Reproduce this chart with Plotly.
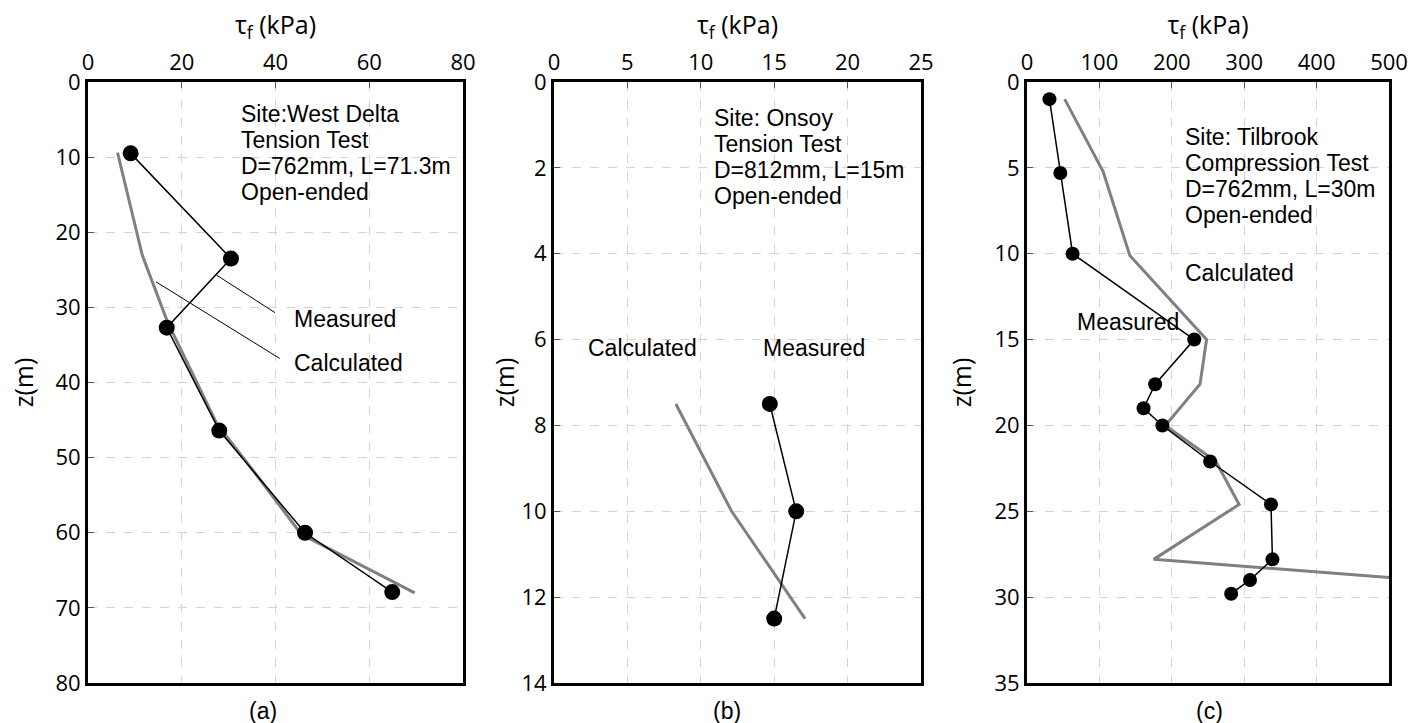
import plotly.graph_objects as go

W, H = 1411, 723

# ---------------- data ----------------
# Panel (a) West Delta
meas_a_tau = [9.1, 30.5, 16.8, 28.0, 46.3, 64.9]
meas_a_z = [9.5, 23.5, 32.7, 46.4, 60.0, 67.9]
calc_a_tau = [6.3, 11.6, 17.0, 22.0, 27.5, 35.2, 45.5, 69.7]
calc_a_z = [9.4, 23.1, 32.0, 38.5, 45.5, 51.7, 60.2, 68.0]

# Panel (b) Onsoy
meas_b_tau = [14.7, 16.5, 15.0]
meas_b_z = [7.5, 10.0, 12.5]
calc_b_tau = [8.3, 12.1, 17.1]
calc_b_z = [7.5, 10.0, 12.5]

# Panel (c) Tilbrook
meas_c_tau = [31, 46, 63, 231, 177, 161, 187, 253, 337, 339, 308, 282]
meas_c_z = [1.0, 5.3, 10.0, 15.0, 17.6, 19.0, 20.0, 22.1, 24.6, 27.8, 29.0, 29.8]
calc_c_tau = [52, 105, 142, 248, 239, 191, 261, 293, 175, 500]
calc_c_z = [1.0, 5.2, 10.1, 15.0, 17.6, 20.0, 22.1, 24.6, 27.8, 28.85]

x_ranges = [[0, 80], [0, 25], [0, 500]]
x_dticks = [20, 5, 100]
y_ranges = [[80, 0], [14, 0], [35, 0]]
y_dticks = [10, 2, 5]

site_texts = [
    ["Site:West Delta", "Tension Test", "D=762mm, L=71.3m", "Open-ended"],
    ["Site: Onsoy", "Tension Test", "D=812mm, L=15m", "Open-ended"],
    ["Site: Tilbrook", "Compression Test", "D=762mm, L=30m", "Open-ended"],
]
site_pos = [(32.2, 4.2), (10.74, 0.85), (216, 3.2)]
captions = ["(a)", "(b)", "(c)"]

# label positions (data coords of panel)
label_a = [("Measured", 43.6, 31.5), ("Calculated", 43.6, 37.4)]
leader_a = [((27.4, 25.7), (39.9, 30.7)), ((14.5, 26.6), (40.9, 36.8))]
label_b = [("Calculated", 2.2, 6.2), ("Measured", 14.1, 6.2)]
label_c = [("Calculated", 216, 11.1), ("Measured", 66, 14.0)]

# ---------------- layout geometry (pixels in the view) ----------------
panels_px = [(88, 463), (554, 921), (1027, 1389)]
top_px, bot_px = 82, 683
caption_x_px = [263, 727, 1209]
caption_y_px = 711
ytitle_standoff = [15, 0, 16]

GRAY = "#808080"
TICKFONT = dict(family="Open Sans, Lato, sans-serif", size=22, color="#000")
TITLEFONT = dict(family="Open Sans, Lato, sans-serif", size=25, color="#000")
TEXTFONT = dict(family="Liberation Sans, Arial, sans-serif", size=23, color="#000")


def px_x(p):
    return p / W


def px_y(p):
    return 1 - p / H


fig = go.Figure()

series = [
    (meas_a_tau, meas_a_z, calc_a_tau, calc_a_z, 16),
    (meas_b_tau, meas_b_z, calc_b_tau, calc_b_z, 16),
    (meas_c_tau, meas_c_z, calc_c_tau, calc_c_z, 14),
]

for i, (mt, mz, ct, cz, ms) in enumerate(series):
    sfx = "" if i == 0 else str(i + 1)
    fig.add_trace(go.Scatter(x=ct, y=cz, mode="lines", xaxis="x" + sfx, yaxis="y" + sfx,
                             line=dict(color=GRAY, width=3), showlegend=False))
    fig.add_trace(go.Scatter(x=mt, y=mz, mode="lines+markers", xaxis="x" + sfx, yaxis="y" + sfx,
                             line=dict(color="black", width=1.5),
                             marker=dict(color="black", size=ms), showlegend=False))

layout = dict(
    width=W, height=H,
    margin=dict(l=0, r=0, t=0, b=0),
    paper_bgcolor="white", plot_bgcolor="white",
    showlegend=False,
)

for i in range(3):
    sfx = "" if i == 0 else str(i + 1)
    x0, x1 = panels_px[i]
    xdom = [px_x(x0), px_x(x1)]
    ydom = [px_y(bot_px), px_y(top_px)]
    layout["xaxis" + sfx] = dict(
        domain=xdom, range=x_ranges[i], dtick=x_dticks[i], side="top",
        anchor="y" + sfx, showline=True, linecolor="black", linewidth=3, mirror=True,
        showgrid=True, gridcolor="#d4d4d4", griddash="dash", gridwidth=1,
        ticks="inside", ticklen=6, tickcolor="#555", tickwidth=1,
        tickfont=TICKFONT, zeroline=False, automargin=False,
        title=dict(text="τ<sub>f</sub> (kPa)", font=TITLEFONT, standoff=5),
    )
    layout["yaxis" + sfx] = dict(
        domain=ydom, range=y_ranges[i], dtick=y_dticks[i],
        anchor="x" + sfx, showline=True, linecolor="black", linewidth=3, mirror=True,
        showgrid=True, gridcolor="#d4d4d4", griddash="dash", gridwidth=1,
        ticks="inside", ticklen=6, tickcolor="#555", tickwidth=1,
        tickfont=TICKFONT, zeroline=False, automargin=False,
        title=dict(text="z(m)", font=TITLEFONT, standoff=ytitle_standoff[i]),
    )

fig.update_layout(**layout)

annotations = []
shapes = []
for i in range(3):
    sfx = "" if i == 0 else str(i + 1)
    xs, zs = site_pos[i]
    for k, line in enumerate(site_texts[i]):
        annotations.append(dict(x=xs, y=zs, xref="x" + sfx, yref="y" + sfx, text=line,
                                showarrow=False, xanchor="left", yanchor="middle",
                                yshift=-26 * k, font=TEXTFONT))
    annotations.append(dict(x=px_x(caption_x_px[i]), y=px_y(caption_y_px), xref="paper",
                            yref="paper", text=captions[i], showarrow=False,
                            xanchor="center", yanchor="middle", font=TEXTFONT))

for lbls, sfx in ((label_a, ""), (label_b, "2"), (label_c, "3")):
    for txt, xx, zz in lbls:
        annotations.append(dict(x=xx, y=zz, xref="x" + sfx, yref="y" + sfx, text=txt,
                                showarrow=False, xanchor="left", yanchor="middle",
                                font=TEXTFONT))

for (p0, p1) in leader_a:
    shapes.append(dict(type="line", xref="x", yref="y", x0=p0[0], y0=p0[1], x1=p1[0], y1=p1[1],
                       line=dict(color="black", width=1)))

fig.update_layout(annotations=annotations, shapes=shapes)

# remove the default page margin so the figure fills the 1411x723 view exactly
fig.write_html(
    "out.html",
    config={"displayModeBar": False},
    post_script="document.body.style.margin='0';document.body.style.overflow='hidden';",
)
